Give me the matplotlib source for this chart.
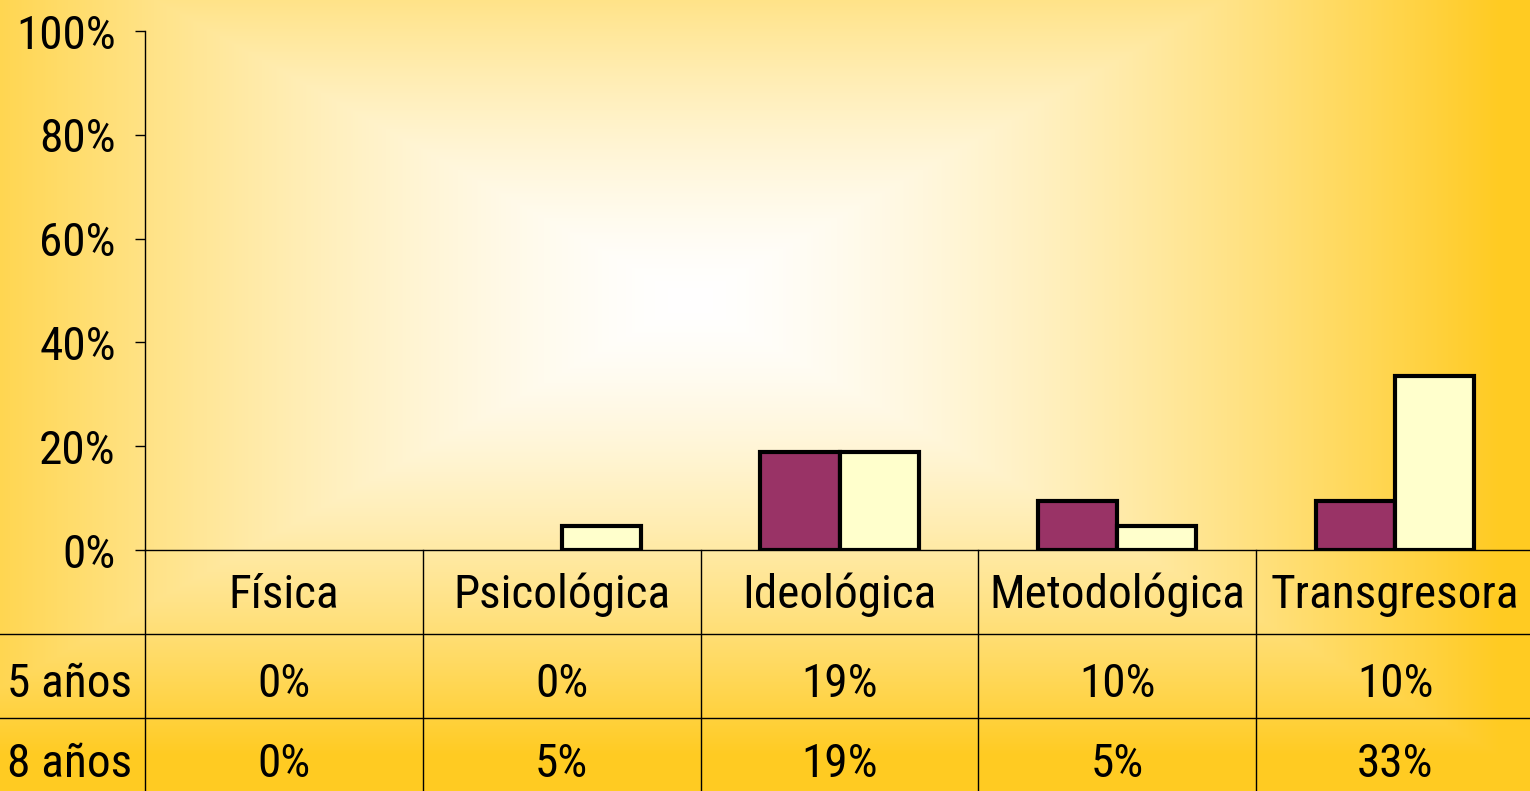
import numpy as np
import matplotlib
matplotlib.use("Agg")
import matplotlib.pyplot as plt
import matplotlib.transforms as mtransforms
from matplotlib.colors import to_rgb

plt.rcParams['font.family'] = ['Roboto Condensed', 'DejaVu Sans']

categorias = ['Física', 'Psicológica', 'Ideológica', 'Metodológica', 'Transgresora']
series = ['5 años', '8 años']
v5 = [0.0, 0.0, 0.188, 0.094, 0.094]
v8 = [0.0, 0.047, 0.188, 0.047, 0.335]
tabla5 = ['0%', '0%', '19%', '10%', '10%']
tabla8 = ['0%', '5%', '19%', '5%', '33%']
yticks = [0, 0.2, 0.4, 0.6, 0.8, 1.0]

W, H = 1530, 791
fs = 34
fig = plt.figure(figsize=(W / 100, H / 100), dpi=100)

# fondo degradado desde el centro
bg = fig.add_axes([0, 0, 1, 1])
xx, yy = np.meshgrid(np.arange(W), np.arange(H))
t = np.maximum(np.abs(xx - 690) / 810.0, np.abs(yy - 300) / 455.0)
t = np.clip(t, 0, 1) ** 1.5
c0 = np.array(to_rgb('#FFFFFF'))
c1 = np.array(to_rgb('#FFCB22'))
img = c0[None, None, :] * (1 - t[..., None]) + c1[None, None, :] * t[..., None]
bg.imshow(img, extent=[0, W, H, 0], aspect='auto')
bg.set_xlim(0, W)
bg.set_ylim(H, 0)
bg.axis('off')

x0, x1 = 145, 1534
y_top, y_zero = 31, 550
ax = fig.add_axes([x0 / W, (H - y_zero) / H, (x1 - x0) / W, (y_zero - y_top) / H])
ax.patch.set_alpha(0)
x = np.arange(len(categorias))
w = 0.285
lw5 = [3 if v > 0 else 0 for v in v5]
lw8 = [3 if v > 0 else 0 for v in v8]
ax.bar(x - w / 2, v5, w, color='#993366', edgecolor='black', linewidth=lw5, label=series[0])
ax.bar(x + w / 2, v8, w, color='#FFFFCC', edgecolor='black', linewidth=lw8, label=series[1])
ax.set_xlim(-0.5, len(categorias) - 0.5)
ax.set_ylim(0, 1)
ax.set_yticks(yticks)
ax.set_yticklabels([f'{int(round(v * 100))}%' for v in yticks], fontsize=fs)
ax.tick_params(axis='y', length=7, width=1, pad=14, direction='out')
ax.set_xticks([])
for s in ['top', 'right']:
    ax.spines[s].set_visible(False)
ax.spines['left'].set_linewidth(1)
ax.spines['bottom'].set_linewidth(1)
ax.spines['bottom'].set_zorder(0.5)

# tabla de datos
row_h = 84
fila_y = [y_zero, y_zero + row_h, y_zero + 2 * row_h, H]
tr = mtransforms.blended_transform_factory(ax.transData, bg.transData)
bounds = np.arange(len(categorias) + 1) - 0.5
for b in bounds[1:-1]:
    bg.plot([b, b], [y_zero, H], color='black', lw=1, transform=tr)
bg.plot([x0, x0], [y_zero, H], color='black', lw=1)
for yy_ in fila_y[1:3]:
    bg.plot([0, W], [yy_, yy_], color='black', lw=1)

for i, cat in enumerate(categorias):
    bg.text(i, (fila_y[0] + fila_y[1]) / 2 + 3, cat, transform=tr, ha='center', va='center', fontsize=fs)
    bg.text(i, (fila_y[1] + fila_y[2]) / 2 + 8, tabla5[i], transform=tr, ha='center', va='center', fontsize=fs)
    bg.text(i, fila_y[2] + row_h / 2 + 4, tabla8[i], transform=tr, ha='center', va='center', fontsize=fs)
bg.text(7, (fila_y[1] + fila_y[2]) / 2 + 8, series[0], ha='left', va='center', fontsize=fs)
bg.text(7, fila_y[2] + row_h / 2 + 4, series[1], ha='left', va='center', fontsize=fs)

fig.savefig('out.png', dpi=100)
